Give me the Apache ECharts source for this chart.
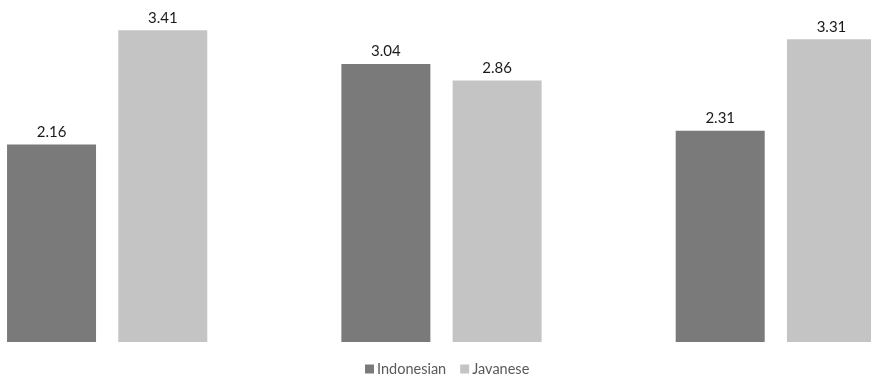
<!DOCTYPE html>
<html>
<head>
<meta charset="utf-8">
<script src="https://cdn.jsdelivr.net/npm/echarts@6/dist/echarts.min.js"></script>
<style>
  html, body { margin: 0; padding: 0; background: #fff; }
  #frame { position: relative; width: 871px; height: 377px; overflow: hidden; }
  /* the plot is wider than the frame: the last bar runs past the right edge */
  #chart { position: absolute; left: -60px; top: 0; width: 1003px; height: 377px; }
</style>
</head>
<body>
<div id="frame"><div id="chart"></div></div>
<script>
// Three groups compared across two languages
const categories = ['A', 'B', 'C'];
const indonesian = [2.16, 3.04, 2.31];
const javanese = [3.41, 2.86, 3.31];
const seriesNames = ['Indonesian', 'Javanese'];

const chart = echarts.init(document.getElementById('chart'), null, { renderer: 'canvas' });

const FONT = 'Lato, "Open Sans", "Liberation Sans", sans-serif';

const labelStyle = {
  show: true,
  position: 'top',
  distance: 5,
  color: '#1a1a1a',
  fontSize: 15,
  fontFamily: FONT,
  formatter: p => p.value.toFixed(2)
};

chart.setOption({
  animation: false,
  backgroundColor: '#ffffff',
  grid: { left: 0, right: 0, top: 22, bottom: 35, containLabel: false },
  legend: {
    left: 425,
    top: 361,
    padding: 0,
    itemWidth: 9,
    itemHeight: 9,
    itemGap: 14,
    icon: 'rect',
    textStyle: {
      color: '#595959',
      fontSize: 14.5,
      lineHeight: 16,
      fontFamily: FONT,
      padding: [0, 0, 0, -2]
    },
    data: seriesNames
  },
  xAxis: {
    type: 'category',
    data: categories,
    axisLine: { show: false },
    axisTick: { show: false },
    axisLabel: { show: false }
  },
  yAxis: {
    type: 'value',
    min: 0,
    max: 3.5,
    show: false,
    splitLine: { show: false }
  },
  series: [
    {
      name: seriesNames[0],
      type: 'bar',
      data: indonesian,
      barWidth: 89,
      barGap: '25%',
      itemStyle: { color: '#7a7a7a' },
      label: labelStyle
    },
    {
      name: seriesNames[1],
      type: 'bar',
      data: javanese,
      barWidth: 89,
      barGap: '25%',
      itemStyle: { color: '#c4c4c4' },
      label: labelStyle
    }
  ]
});
</script>
</body>
</html>
